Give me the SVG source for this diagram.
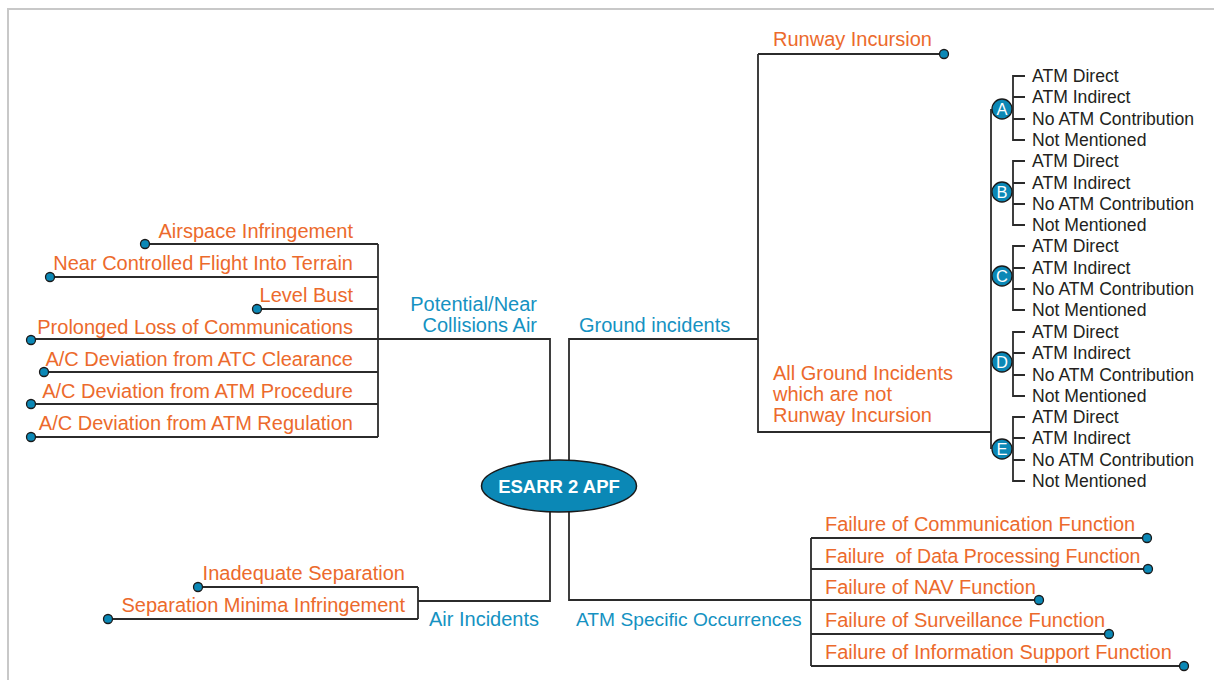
<svg xmlns="http://www.w3.org/2000/svg" width="1214" height="680" viewBox="0 0 1214 680">
<style>
.ln{fill:none;stroke:#2b2b2b;stroke-width:1.8}
.dot{fill:#0b88b6;stroke:#1a1a1a;stroke-width:1.3}
.or{font-family:"Liberation Sans",Arial,sans-serif;font-size:20px;fill:#ec6a2c}
.bl{font-family:"Liberation Sans",Arial,sans-serif;font-size:20px;fill:#1592c2}
.it{font-family:"Liberation Sans",Arial,sans-serif;font-size:17.6px;fill:#231f20}
.end{text-anchor:end}
.circ{fill:#0b88b6;stroke:#1a1a1a;stroke-width:1.3}
.cl{font-family:"Liberation Sans",Arial,sans-serif;font-size:16.5px;fill:#fff;text-anchor:middle}
</style>
<rect width="1214" height="680" fill="#fff"/>
<path d="M8,680 V9 H1214" fill="none" stroke="#c8c8c8" stroke-width="2"/>
<g id="connectors">
  <path class="ln" d="M550,486 V339 H31"/>
  <path class="ln" d="M378,244 V437"/>
  <path class="ln" d="M378,244 H145 M378,277 H50 M378,309 H257 M378,372 H44 M378,404 H31 M378,437 H31"/>
  <path class="ln" d="M569,486 V339 H758"/>
  <path class="ln" d="M758,54 V432 H991 M758,54 H944"/>
  <path class="ln" d="M991,109 V449"/>
  <path class="ln" d="M569,486 V600 H1042"/>
  <path class="ln" d="M811,538 V666 M811,538 H1151 M811,569 H1152 M811,634 H1113 M811,666 H1188"/>
  <path class="ln" d="M550,486 V601 H418 M418,587 V619 M418,587 H198 M418,619 H108"/>
  <g id="brackets">
    <path class="ln" d="M1025,76 H1013 V140 H1025 M1013,97 H1025 M1013,119 H1025"/>
    <path class="ln" d="M1025,161 H1013 V225 H1025 M1013,183 H1025 M1013,204 H1025"/>
    <path class="ln" d="M1025,246 H1013 V310 H1025 M1013,268 H1025 M1013,289 H1025"/>
    <path class="ln" d="M1025,332 H1013 V396 H1025 M1013,353 H1025 M1013,375 H1025"/>
    <path class="ln" d="M1025,417 H1013 V481 H1025 M1013,438 H1025 M1013,460 H1025"/>
  </g>
</g>
<g id="root">
  <ellipse cx="559" cy="486" rx="77.5" ry="26" fill="#0b88b6" stroke="#1a1a1a" stroke-width="1.5"/>
  <text x="559" y="493" text-anchor="middle" font-family="'Liberation Sans',Arial,sans-serif" font-size="18.5" font-weight="bold" fill="#fff">ESARR 2 APF</text>
</g>
<g id="potential">
  <text class="bl end" x="537" y="311">Potential/Near</text>
  <text class="bl end" x="537" y="332">Collisions Air</text>
</g>
<g id="airspace"><text class="or end" x="353" y="238">Airspace Infringement</text><circle class="dot" cx="145" cy="244" r="4.5"/></g>
<g id="ncfit"><text class="or end" x="353" y="270">Near Controlled Flight Into Terrain</text><circle class="dot" cx="50" cy="277" r="4.5"/></g>
<g id="levelbust"><text class="or end" x="353" y="302">Level Bust</text><circle class="dot" cx="257" cy="309" r="4.5"/></g>
<g id="prolonged"><text class="or end" x="353" y="334">Prolonged Loss of Communications</text><circle class="dot" cx="31" cy="340" r="4.5"/></g>
<g id="atc"><text class="or end" x="353" y="366">A/C Deviation from ATC Clearance</text><circle class="dot" cx="44" cy="372" r="4.5"/></g>
<g id="procedure"><text class="or end" x="353" y="398">A/C Deviation from ATM Procedure</text><circle class="dot" cx="31" cy="404" r="4.5"/></g>
<g id="regulation"><text class="or end" x="353" y="430">A/C Deviation from ATM Regulation</text><circle class="dot" cx="31" cy="437" r="4.5"/></g>
<g id="ground"><text class="bl" x="579" y="332">Ground incidents</text></g>
<g id="runway"><text class="or" x="773" y="46">Runway Incursion</text><circle class="dot" cx="944" cy="54" r="4.5"/></g>
<g id="allground">
  <text class="or" x="773" y="380">All Ground Incidents</text>
  <text class="or" x="773" y="401">which are not</text>
  <text class="or" x="773" y="422">Runway Incursion</text>
</g>
<g id="groupA">
  <circle class="circ" cx="1002" cy="109" r="10"/><text class="cl" x="1002" y="115">A</text>
  <text class="it" x="1032" y="82">ATM Direct</text><text class="it" x="1032" y="103">ATM Indirect</text><text class="it" x="1032" y="125">No ATM Contribution</text><text class="it" x="1032" y="146">Not Mentioned</text>
</g>
<g id="groupB">
  <circle class="circ" cx="1002" cy="192" r="10"/><text class="cl" x="1002" y="198">B</text>
  <text class="it" x="1032" y="167">ATM Direct</text><text class="it" x="1032" y="189">ATM Indirect</text><text class="it" x="1032" y="210">No ATM Contribution</text><text class="it" x="1032" y="231">Not Mentioned</text>
</g>
<g id="groupC">
  <circle class="circ" cx="1002" cy="276" r="10"/><text class="cl" x="1002" y="282">C</text>
  <text class="it" x="1032" y="252">ATM Direct</text><text class="it" x="1032" y="274">ATM Indirect</text><text class="it" x="1032" y="295">No ATM Contribution</text><text class="it" x="1032" y="316">Not Mentioned</text>
</g>
<g id="groupD">
  <circle class="circ" cx="1002" cy="362" r="10"/><text class="cl" x="1002" y="368">D</text>
  <text class="it" x="1032" y="338">ATM Direct</text><text class="it" x="1032" y="359">ATM Indirect</text><text class="it" x="1032" y="381">No ATM Contribution</text><text class="it" x="1032" y="402">Not Mentioned</text>
</g>
<g id="groupE">
  <circle class="circ" cx="1002" cy="449" r="10"/><text class="cl" x="1002" y="455">E</text>
  <text class="it" x="1032" y="423">ATM Direct</text><text class="it" x="1032" y="444">ATM Indirect</text><text class="it" x="1032" y="466">No ATM Contribution</text><text class="it" x="1032" y="487">Not Mentioned</text>
</g>
<g id="atmspecific"><text class="bl" x="576" y="626" style="font-size:19.2px">ATM Specific Occurrences</text></g>
<g id="comm"><text class="or" x="825" y="531">Failure of Communication Function</text><circle class="dot" cx="1147" cy="538" r="4.5"/></g>
<g id="dataproc"><text class="or" x="825" y="563" style="font-size:19.5px" xml:space="preserve">Failure  of Data Processing Function</text><circle class="dot" cx="1148" cy="569" r="4.5"/></g>
<g id="nav"><text class="or" x="825" y="594">Failure of NAV Function</text><circle class="dot" cx="1039" cy="600" r="4.5"/></g>
<g id="surv"><text class="or" x="825" y="627">Failure of Surveillance Function</text><circle class="dot" cx="1109" cy="634" r="4.5"/></g>
<g id="info"><text class="or" x="825" y="659">Failure of Information Support Function</text><circle class="dot" cx="1184" cy="666" r="4.5"/></g>
<g id="airinc"><text class="bl" x="429" y="626">Air Incidents</text></g>
<g id="inadequate"><text class="or end" x="405" y="580">Inadequate Separation</text><circle class="dot" cx="198" cy="587" r="4.5"/></g>
<g id="sepmin"><text class="or end" x="405" y="612">Separation Minima Infringement</text><circle class="dot" cx="108" cy="619" r="4.5"/></g>
</svg>
